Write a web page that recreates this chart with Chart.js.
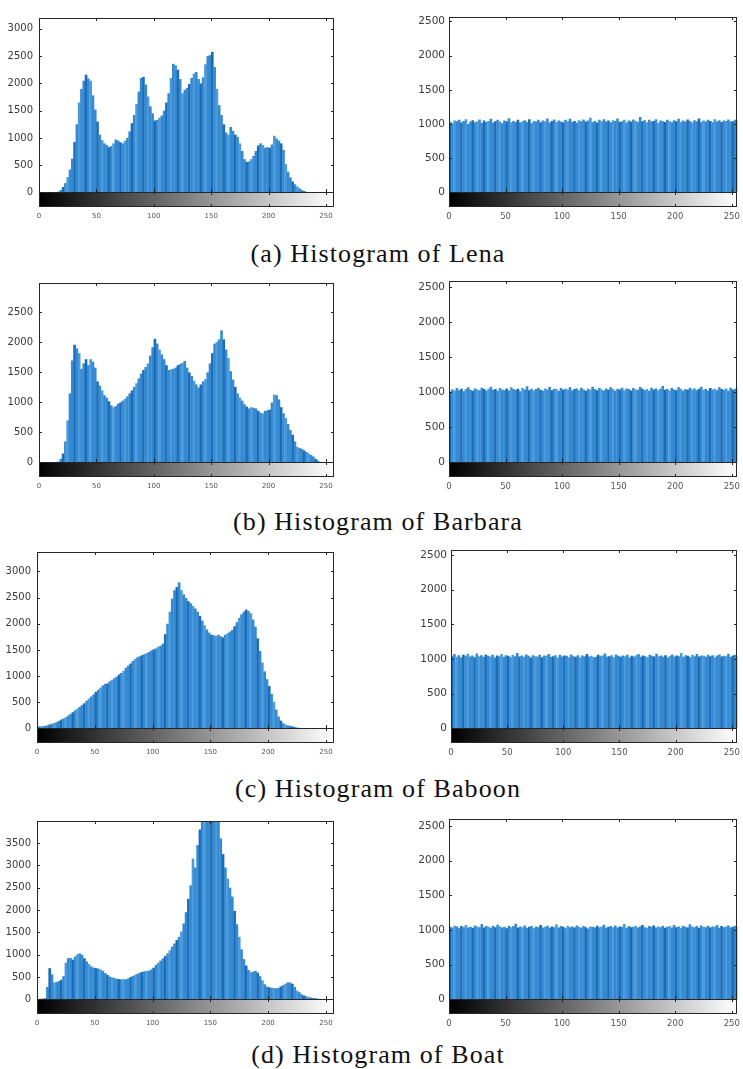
<!DOCTYPE html>
<html>
<head>
<meta charset="utf-8">
<script src="https://cdn.jsdelivr.net/npm/chart.js@4.4.1/dist/chart.umd.min.js"></script>
<style>
    body { margin: 0; width: 743px; height: 1069px; overflow: hidden; background: #fff; position: relative; }
    canvas { position: absolute; }
    .caption {
        position: absolute; left: 0; width: 756px; text-align: center;
        font-family: 'Liberation Serif', serif; font-size: 26px; letter-spacing: 1.1px;
        color: #111; line-height: 30px;
    }
</style>
</head>
<body>
<div class="caption" style="top:239px">(a) Histogram of Lena</div>
<div class="caption" style="top:507px">(b) Histogram of Barbara</div>
<div class="caption" style="top:774px">(c) Histogram of Baboon</div>
<div class="caption" style="top:1040px">(d) Histogram of Boat</div>

<script>
// gray-level bins of width 2
const BIN = 2;
const binCentres = Array.from({ length: 128 }, (_, k) => BIN * k + BIN / 2);
const xTickLabels = [0, 50, 100, 150, 200, 250];

// original images
const lenaCounts = [
    0, 0, 0, 0, 0, 0, 0, 5, 15, 45, 100, 170, 280, 420, 620, 925,
    1250, 1650, 1900, 2050, 2160, 2090, 2050, 1780, 1520, 1300, 1060, 960, 900, 870, 830, 850,
    900, 970, 950, 920, 900, 950, 1000, 1120, 1270, 1420, 1620, 1850, 2100, 2120, 1980, 1760,
    1580, 1450, 1320, 1330, 1370, 1410, 1500, 1650, 1820, 2100, 2360, 2330, 2250, 2080, 1820, 1880,
    1920, 1990, 2100, 2180, 2210, 2080, 2000, 2110, 2350, 2500, 2520, 2580, 2300, 1900, 1600, 1420,
    1250, 1100, 1060, 1200, 1130, 1060, 1020, 900, 760, 610, 560, 570, 610, 670, 760, 860,
    900, 870, 820, 830, 820, 880, 1040, 990, 950, 900, 780, 520, 380, 280, 200, 150,
    110, 75, 45, 25, 10, 5, 0, 0, 0, 0, 0, 0, 0, 0, 0, 0
];
const barbaraCounts = [
    0, 0, 0, 0, 0, 0, 0, 5, 15, 60, 150, 350, 700, 1150, 1700, 1960,
    1900, 1820, 1560, 1650, 1720, 1620, 1720, 1680, 1580, 1350, 1280, 1200, 1120, 1080, 1020, 950,
    920, 940, 980, 1000, 1030, 1060, 1100, 1150, 1200, 1260, 1320, 1400, 1480, 1540, 1590, 1650,
    1780, 1920, 2060, 1980, 1880, 1800, 1720, 1620, 1540, 1550, 1560, 1580, 1620, 1640, 1660, 1690,
    1580, 1500, 1440, 1360, 1300, 1250, 1300, 1350, 1390, 1500, 1650, 1820, 1980, 2010, 2050, 2200,
    2050, 1880, 1740, 1520, 1380, 1260, 1150, 1080, 1030, 970, 930, 900, 920, 910, 900, 860,
    830, 820, 860, 870, 880, 1000, 1130, 1120, 1050, 920, 820, 740, 640, 540, 460, 350,
    260, 240, 225, 200, 175, 150, 125, 100, 60, 35, 10, 0, 0, 0, 0, 0
];
const baboonCounts = [
    40, 40, 45, 50, 60, 75, 90, 105, 120, 145, 170, 190, 215, 245, 275, 310,
    345, 380, 410, 450, 480, 530, 570, 610, 650, 700, 740, 780, 820, 850, 860, 900,
    930, 960, 990, 1030, 1060, 1100, 1160, 1200, 1240, 1290, 1330, 1360, 1380, 1400, 1420, 1440,
    1460, 1490, 1510, 1530, 1560, 1580, 1620, 1800, 2000, 2230, 2480, 2640, 2700, 2790, 2640, 2560,
    2490, 2430, 2390, 2340, 2290, 2230, 2150, 2060, 1970, 1890, 1830, 1790, 1780, 1770, 1790, 1760,
    1740, 1790, 1820, 1850, 1880, 1950, 2030, 2110, 2180, 2230, 2270, 2240, 2200, 2080, 1940, 1720,
    1480, 1260, 1090, 940, 810, 660, 510, 360, 230, 150, 100, 75, 60, 50, 40, 30,
    20, 12, 6, 0, 0, 0, 0, 0, 0, 0, 0, 0, 0, 0, 0, 0
];
const boatCounts = [
    10, 15, 20, 30, 280, 700, 560, 380, 390, 410, 440, 520, 820, 920, 930, 890,
    960, 1010, 1030, 1000, 920, 850, 790, 740, 710, 700, 690, 670, 640, 590, 550, 510,
    495, 480, 460, 455, 450, 455, 450, 470, 500, 525, 550, 575, 600, 615, 630, 640,
    645, 670, 710, 770, 820, 870, 920, 970, 1030, 1100, 1180, 1250, 1330, 1400, 1520, 1700,
    1950, 2250, 2550, 3150, 2950, 3450, 3800, 4100, 4300, 4500, 4600, 4600, 4500, 4350, 4100, 3600,
    3250, 2950, 2700, 2500, 2300, 1980, 1680, 1400, 1120, 900, 760, 660, 610, 620, 640, 600,
    520, 430, 340, 290, 270, 260, 255, 250, 260, 290, 320, 350, 380, 380, 350, 280,
    200, 160, 115, 90, 70, 55, 45, 35, 25, 18, 12, 6, 0, 0, 0, 0
];

// encrypted images (flat histograms)
const lenaEncCounts = [
    1030, 1010, 1050, 1040, 1060, 1020, 1045, 1070, 1000, 1035, 1055, 1025, 1040, 1065, 1015, 1050,
    1030, 1045, 1075, 1020, 1040, 1060, 1035, 1010, 1050, 1040, 1085, 1025, 1045, 1030, 1060, 1020,
    1040, 1055, 1030, 1070, 1015, 1045, 1035, 1060, 1025, 1050, 1040, 1080, 1020, 1045, 1065, 1030,
    1050, 1035, 1025, 1060, 1040, 1075, 1030, 1045, 1020, 1055, 1040, 1065, 1035, 1050, 1090, 1030,
    1045, 1020, 1060, 1040, 1070, 1035, 1050, 1025, 1055, 1045, 1080, 1030, 1040, 1060, 1020, 1050,
    1035, 1065, 1045, 1030, 1100, 1040, 1055, 1025, 1060, 1035, 1045, 1070, 1015, 1050, 1040, 1030,
    1060, 1045, 1025, 1055, 1040, 1075, 1030, 1050, 1035, 1065, 1045, 1020, 1055, 1040, 1080, 1030,
    1050, 1035, 1060, 1045, 1025, 1070, 1040, 1055, 1030, 1050, 1045, 1065, 1035, 1040, 1060, 1050
];
const barbaraEncCounts = [
    1010, 1040, 1025, 1060, 1030, 1050, 1015, 1045, 1070, 1035, 1020, 1055, 1040, 1030, 1065, 1045,
    1025, 1050, 1080, 1035, 1045, 1020, 1060, 1040, 1030, 1055, 1025, 1070, 1045, 1035, 1050, 1015,
    1060, 1040, 1085, 1030, 1050, 1025, 1045, 1065, 1035, 1020, 1055, 1040, 1075, 1030, 1050, 1045,
    1020, 1060, 1035, 1050, 1040, 1070, 1025, 1045, 1055, 1030, 1065, 1040, 1020, 1050, 1035, 1080,
    1045, 1030, 1060, 1040, 1025, 1055, 1035, 1070, 1045, 1020, 1050, 1040, 1065, 1030, 1055, 1045,
    1025, 1060, 1040, 1035, 1075, 1050, 1030, 1045, 1020, 1065, 1040, 1055, 1030, 1050, 1090, 1035,
    1045, 1025, 1060, 1040, 1030, 1070, 1050, 1020, 1045, 1035, 1065, 1040, 1055, 1030, 1050, 1080,
    1035, 1045, 1025, 1060, 1040, 1050, 1030, 1070, 1045, 1035, 1055, 1020, 1065, 1040, 1050, 1060
];
const baboonEncCounts = [
    1040, 1070, 1030, 1055, 1020, 1060, 1045, 1075, 1035, 1050, 1025, 1080, 1040, 1055, 1030, 1065,
    1045, 1035, 1060, 1020, 1050, 1040, 1070, 1030, 1055, 1045, 1025, 1060, 1040, 1085, 1035, 1050,
    1030, 1065, 1045, 1020, 1055, 1040, 1035, 1060, 1025, 1050, 1045, 1070, 1030, 1040, 1055, 1020,
    1060, 1035, 1050, 1045, 1025, 1065, 1040, 1030, 1055, 1020, 1050, 1040, 1070, 1035, 1045, 1025,
    1030, 1060, 1045, 1050, 1080, 1035, 1040, 1055, 1025, 1065, 1045, 1030, 1050, 1040, 1060, 1020,
    1045, 1035, 1055, 1070, 1030, 1050, 1040, 1025, 1060, 1045, 1035, 1075, 1040, 1050, 1030, 1055,
    1020, 1045, 1065, 1035, 1050, 1040, 1085, 1030, 1055, 1045, 1025, 1060, 1040, 1070, 1035, 1050,
    1045, 1030, 1060, 1040, 1055, 1025, 1050, 1065, 1035, 1045, 1040, 1075, 1030, 1050, 1060, 1040
];
const boatEncCounts = [
    1045, 1030, 1060, 1050, 1025, 1055, 1040, 1070, 1035, 1045, 1030, 1065, 1050, 1040, 1085, 1035,
    1055, 1045, 1030, 1060, 1040, 1075, 1050, 1035, 1045, 1025, 1060, 1040, 1055, 1090, 1035, 1050,
    1040, 1065, 1030, 1045, 1055, 1025, 1050, 1040, 1070, 1035, 1045, 1060, 1030, 1050, 1040, 1080,
    1035, 1055, 1045, 1025, 1060, 1040, 1050, 1035, 1065, 1045, 1030, 1055, 1040, 1020, 1050, 1045,
    1035, 1060, 1040, 1050, 1075, 1030, 1045, 1055, 1040, 1065, 1035, 1050, 1045, 1085, 1030, 1055,
    1040, 1045, 1060, 1035, 1050, 1070, 1040, 1030, 1055, 1045, 1065, 1035, 1050, 1040, 1060, 1030,
    1045, 1055, 1035, 1070, 1040, 1050, 1030, 1060, 1045, 1035, 1080, 1050, 1040, 1055, 1030, 1065,
    1045, 1040, 1060, 1035, 1050, 1045, 1070, 1030, 1055, 1040, 1050, 1065, 1035, 1045, 1060, 1050
];

const yTicks3000 = [0, 500, 1000, 1500, 2000, 2500, 3000];
const yTicks2500 = [0, 500, 1000, 1500, 2000, 2500];
const yTicks3500 = [0, 500, 1000, 1500, 2000, 2500, 3000, 3500];

// layout: axes box in page pixels (top, zero line, bottom of colour bar)
const panels = [
    { counts: lenaCounts,       yTicks: yTicks3000, yMax: 3200, xMax: 257, left: 39,  right: 334, top: 12,  zero: 192, bottom: 207,  side: 'L' },
    { counts: lenaEncCounts,    yTicks: yTicks2500, yMax: 2560, xMax: 255, left: 449, right: 739, top: 13,  zero: 192, bottom: 207,  side: 'R' },
    { counts: barbaraCounts,    yTicks: yTicks2500, yMax: 2990, xMax: 257, left: 39,  right: 334, top: 277, zero: 462, bottom: 477,  side: 'L' },
    { counts: barbaraEncCounts, yTicks: yTicks2500, yMax: 2584, xMax: 255, left: 449, right: 739, top: 277, zero: 462, bottom: 477,  side: 'R' },
    { counts: baboonCounts,     yTicks: yTicks3000, yMax: 3370, xMax: 257, left: 37,  right: 334, top: 546, zero: 728, bottom: 743,  side: 'L' },
    { counts: baboonEncCounts,  yTicks: yTicks2500, yMax: 2566, xMax: 255, left: 451, right: 739, top: 546, zero: 728, bottom: 743,  side: 'R' },
    { counts: boatCounts,       yTicks: yTicks3500, yMax: 3990, xMax: 257, left: 37,  right: 334, top: 815, zero: 999, bottom: 1014, side: 'L' },
    { counts: boatEncCounts,    yTicks: yTicks2500, yMax: 2594, xMax: 255, left: 449, right: 739, top: 815, zero: 999, bottom: 1014, side: 'R' }
];

const PAD_T = 6, PAD_R = 6, X_H = 22;
const AXIS = '#262626';

function barColor(ctx) {
    const k = ctx.dataIndex % 5;
    if (k === 0) return '#1b6cb7';
    if (k === 2) return '#4a9bdc';
    return '#3589d1';
}

// MATLAB-like box, inward ticks and the gray colour bar under the zero line
const framePlugin = {
    id: 'frame',
    afterDraw(chart) {
        const { ctx, chartArea: a, scales: { x, y } } = chart;
        const L = Math.round(a.left), R = Math.round(a.right);
        const T = Math.round(a.top), B = Math.round(a.bottom);
        const y0 = Math.round(y.getPixelForValue(0));
        ctx.save();
        const g = ctx.createLinearGradient(L, 0, R, 0);
        g.addColorStop(0, '#000');
        g.addColorStop(1, '#fff');
        ctx.fillStyle = g;
        ctx.fillRect(L, y0, R - L, B - y0);

        ctx.strokeStyle = AXIS;
        ctx.lineWidth = 1;
        ctx.strokeRect(L + 0.5, T + 0.5, R - L - 1, B - T - 1);
        ctx.beginPath();
        ctx.moveTo(L, y0 + 0.5);
        ctx.lineTo(R, y0 + 0.5);
        x.ticks.forEach(t => {
            const px = Math.round(x.getPixelForValue(t.value)) + 0.5;
            ctx.moveTo(px, T); ctx.lineTo(px, T + 3);
            ctx.moveTo(px, y0); ctx.lineTo(px, y0 - 3);
            ctx.moveTo(px, y0); ctx.lineTo(px, y0 + 3);
            ctx.moveTo(px, B); ctx.lineTo(px, B - 3);
        });
        y.ticks.forEach(t => {
            const py = Math.round(y.getPixelForValue(t.value)) + 0.5;
            ctx.moveTo(L, py); ctx.lineTo(L + 3, py);
            ctx.moveTo(R, py); ctx.lineTo(R - 3, py);
        });
        ctx.stroke();
        ctx.restore();
    }
};

panels.forEach(p => {
    const yw = p.side === 'L' ? p.left : 50;
    const canvas = document.createElement('canvas');
    const w = yw + (p.right - p.left) + PAD_R;
    const h = PAD_T + (p.bottom - p.top) + X_H;
    canvas.width = w;
    canvas.height = h;
    canvas.style.left = (p.left - yw) + 'px';
    canvas.style.top = (p.top - PAD_T) + 'px';
    canvas.style.width = w + 'px';
    canvas.style.height = h + 'px';
    document.body.appendChild(canvas);

    const yMin = -p.yMax * (p.bottom - p.zero) / (p.zero - p.top);
    const yFont = p.side === 'L' ? 10 : 10.5;
    const xFont = p.side === 'L' ? 7 : 8.5;

    new Chart(canvas, {
        type: 'bar',
        data: {
            datasets: [{
                data: p.counts.map((c, k) => ({ x: binCentres[k], y: c })),
                backgroundColor: barColor,
                borderWidth: 0,
                barPercentage: 1.15,
                categoryPercentage: 1
            }]
        },
        options: {
            responsive: false,
            animation: false,
            events: [],
            layout: { autoPadding: false, padding: { left: 0, top: PAD_T, right: PAD_R, bottom: 0 } },
            plugins: { legend: { display: false }, tooltip: { enabled: false } },
            scales: {
                x: {
                    type: 'linear',
                    offset: false,
                    min: 0,
                    max: p.xMax,
                    afterBuildTicks: s => { s.ticks = xTickLabels.map(v => ({ value: v })); },
                    afterFit: s => { s.height = X_H; },
                    grid: { display: false, drawTicks: false, offset: false },
                    border: { display: false },
                    ticks: {
                        autoSkip: false,
                        maxRotation: 0,
                        padding: 5,
                        color: '#555',
                        font: { family: 'DejaVu Sans', size: xFont },
                        callback: v => String(v)
                    }
                },
                y: {
                    min: yMin,
                    max: p.yMax,
                    afterBuildTicks: s => { s.ticks = p.yTicks.map(v => ({ value: v })); },
                    afterFit: s => { s.width = yw; },
                    grid: { display: false, drawTicks: false },
                    border: { display: false },
                    ticks: {
                        padding: p.side === 'L' ? 6 : 4,
                        color: '#3a3a3a',
                        font: { family: 'DejaVu Sans', size: yFont },
                        callback: v => String(v)
                    }
                }
            }
        },
        plugins: [framePlugin]
    });
});
</script>
</body>
</html>
